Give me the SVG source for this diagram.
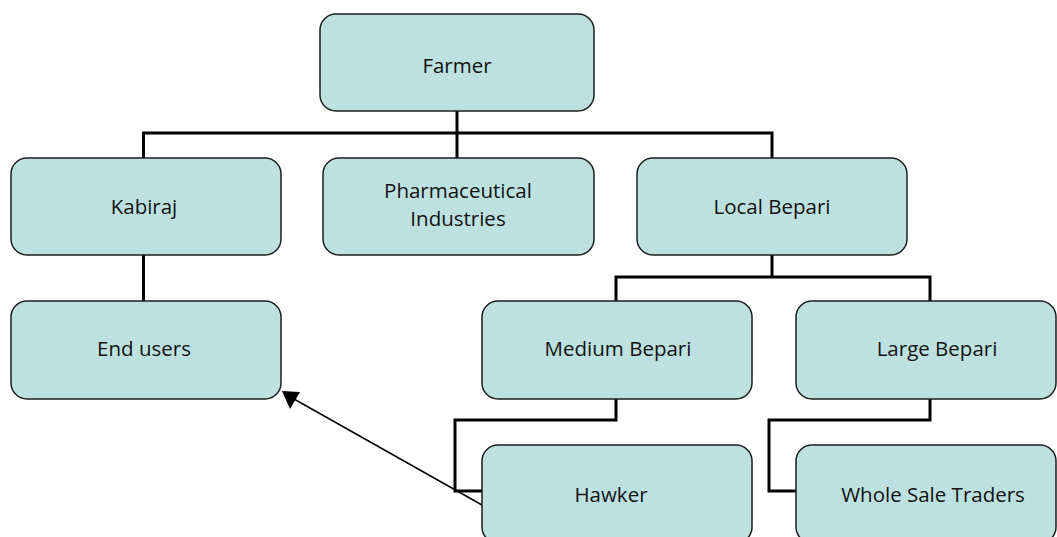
<svg xmlns="http://www.w3.org/2000/svg" width="1057" height="537" viewBox="0 0 1057 537">
<style>
.box{fill:#bde1e1;stroke:#1e1e1e;stroke-width:1.5}
.lbl{font-family:"Open Sans","Liberation Sans",sans-serif;font-size:20.5px;fill:#111;text-anchor:middle}
.conn{fill:none;stroke:#000;stroke-width:3}
.arr{fill:none;stroke:#000;stroke-width:1.5}
</style>
<rect width="1057" height="537" fill="#fff"/>
<g id="connectors">
<path class="conn" d="M457,111 V158 M143.5,158 V133 H772 V158"/>
<path class="conn" d="M143.5,255 V301"/>
<path class="conn" d="M772,255 V277 M616,301 V277 H930 V301"/>
<path class="conn" d="M616,399 V420 H455 V491 H482"/>
<path class="conn" d="M930,399 V420 H769 V491 H796"/>
<line class="arr" x1="482" y1="505" x2="294" y2="399"/>
<polygon points="282,391 300,392 290,409" fill="#000"/>
</g>
<g id="farmer"><rect class="box" x="320" y="14" width="274" height="97" rx="16"/><text class="lbl" x="457" y="73">Farmer</text></g>
<g id="kabiraj"><rect class="box" x="11" y="158" width="270" height="97" rx="16"/><text class="lbl" x="144" y="214">Kabiraj</text></g>
<g id="pharma"><rect class="box" x="323" y="158" width="271" height="97" rx="16"/><text class="lbl" x="458" y="198">Pharmaceutical</text><text class="lbl" x="458" y="226">Industries</text></g>
<g id="local-bepari"><rect class="box" x="637" y="158" width="270" height="97" rx="16"/><text class="lbl" x="772" y="214">Local Bepari</text></g>
<g id="end-users"><rect class="box" x="11" y="301" width="270" height="98" rx="16"/><text class="lbl" x="144" y="356">End users</text></g>
<g id="medium-bepari"><rect class="box" x="482" y="301" width="270" height="98" rx="16"/><text class="lbl" x="618" y="356">Medium Bepari</text></g>
<g id="large-bepari"><rect class="box" x="796" y="301" width="260" height="98" rx="16"/><text class="lbl" x="937" y="356">Large Bepari</text></g>
<g id="hawker"><rect class="box" x="482" y="445" width="270" height="98" rx="16"/><text class="lbl" x="611" y="502">Hawker</text></g>
<g id="wholesale"><rect class="box" x="796" y="445" width="260" height="98" rx="16"/><text class="lbl" x="933" y="502">Whole Sale Traders</text></g>
</svg>
